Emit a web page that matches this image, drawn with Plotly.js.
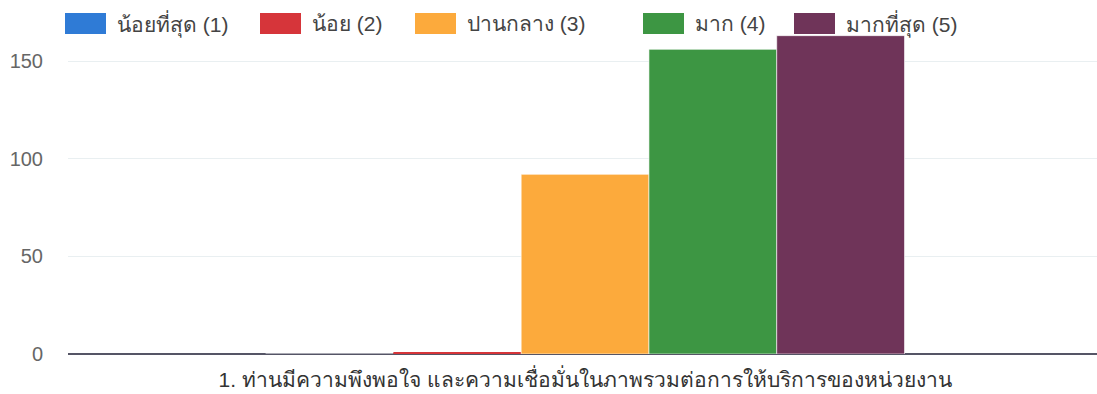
<!DOCTYPE html>
<html>
<head>
<meta charset="utf-8">
<script src="https://cdn.plot.ly/plotly-3.0.1.min.js"></script>
<style>html,body{margin:0;padding:0;background:#fff;}#chart{width:1097px;height:394px;}</style>
</head>
<body>
<div id="chart"></div>
<script>
// ---- data ----
const categories = ["1. ท่านมีความพึงพอใจ และความเชื่อมั่นในภาพรวมต่อการให้บริการของหน่วยงาน"];
const seriesNames = ["น้อยที่สุด (1)", "น้อย (2)", "ปานกลาง (3)", "มาก (4)", "มากที่สุด (5)"];
const seriesValues = [[0], [1], [92], [156], [163]];
const yTickValues = [0, 50, 100, 150];
const yTickLabels = ["0", "50", "100", "150"];

// ---- style ----
const colors = ["#2f7bd6", "#d6353a", "#fcaa3c", "#3d9643", "#6f3459"];
const outline = [0.6, 0, 0.6, 0.6, 0.6];
const W = 1097, H = 394;
const M = {l: 68, r: 0, t: 30, b: 40};
const FONT = "Liberation Sans, Arial, sans-serif";

const traces = seriesNames.map((name, i) => ({
  type: "bar",
  name: name,
  x: categories,
  y: seriesValues[i],
  marker: {color: colors[i], line: {color: "#ffffff", width: outline[i]}},
  showlegend: false,
  hoverinfo: "none"
}));

// custom legend with wide swatches (pixel layout converted to paper coords)
const legendSwatchLeft = [65, 260, 415, 643, 794];
const swW = 41, swTop = 13, swBot = 34;
const pw = W - M.l - M.r, ph = H - M.t - M.b;
const px = v => (v - M.l) / pw;
const py = v => (H - M.b - v) / ph;
const shapes = [], annotations = [];
seriesNames.forEach((name, i) => {
  const x0 = legendSwatchLeft[i];
  shapes.push({type: "rect", xref: "paper", yref: "paper",
    x0: px(x0), x1: px(x0 + swW), y0: py(swBot), y1: py(swTop),
    fillcolor: colors[i], line: {width: 0}, layer: "above"});
  annotations.push({xref: "paper", yref: "paper", x: px(x0 + swW + 9), y: py(23.5),
    xanchor: "left", yanchor: "middle", text: name, showarrow: false,
    font: {family: FONT, size: 21, color: "#444"}});
});

const layout = {
  width: W, height: H,
  margin: M,
  paper_bgcolor: "#fff", plot_bgcolor: "#fff",
  barmode: "group",
  bargap: 0.376,
  bargroupgap: 0,
  showlegend: false,
  font: {family: FONT},
  xaxis: {
    type: "category",
    range: [-0.505, 0.5],
    showgrid: false, zeroline: false,
    showline: false,
    ticks: "",
    tickfont: {family: FONT, size: 21, color: "#333"},
    ticklabelstandoff: 11,
    fixedrange: true
  },
  yaxis: {
    range: [0, 324 / 1.953],
    tickvals: yTickValues, ticktext: yTickLabels,
    showgrid: true, gridcolor: "#e9eff1", gridwidth: 1,
    zeroline: true, zerolinecolor: "#556", zerolinewidth: 1.5,
    showline: false,
    ticks: "outside", ticklen: 4, tickcolor: "rgba(0,0,0,0)",
    tickfont: {family: FONT, size: 20, color: "#666"},
    ticklabelstandoff: 16,
    fixedrange: true
  },
  shapes: shapes,
  annotations: annotations
};

Plotly.newPlot("chart", traces, layout, {displayModeBar: false, staticPlot: true});
</script>
</body>
</html>
